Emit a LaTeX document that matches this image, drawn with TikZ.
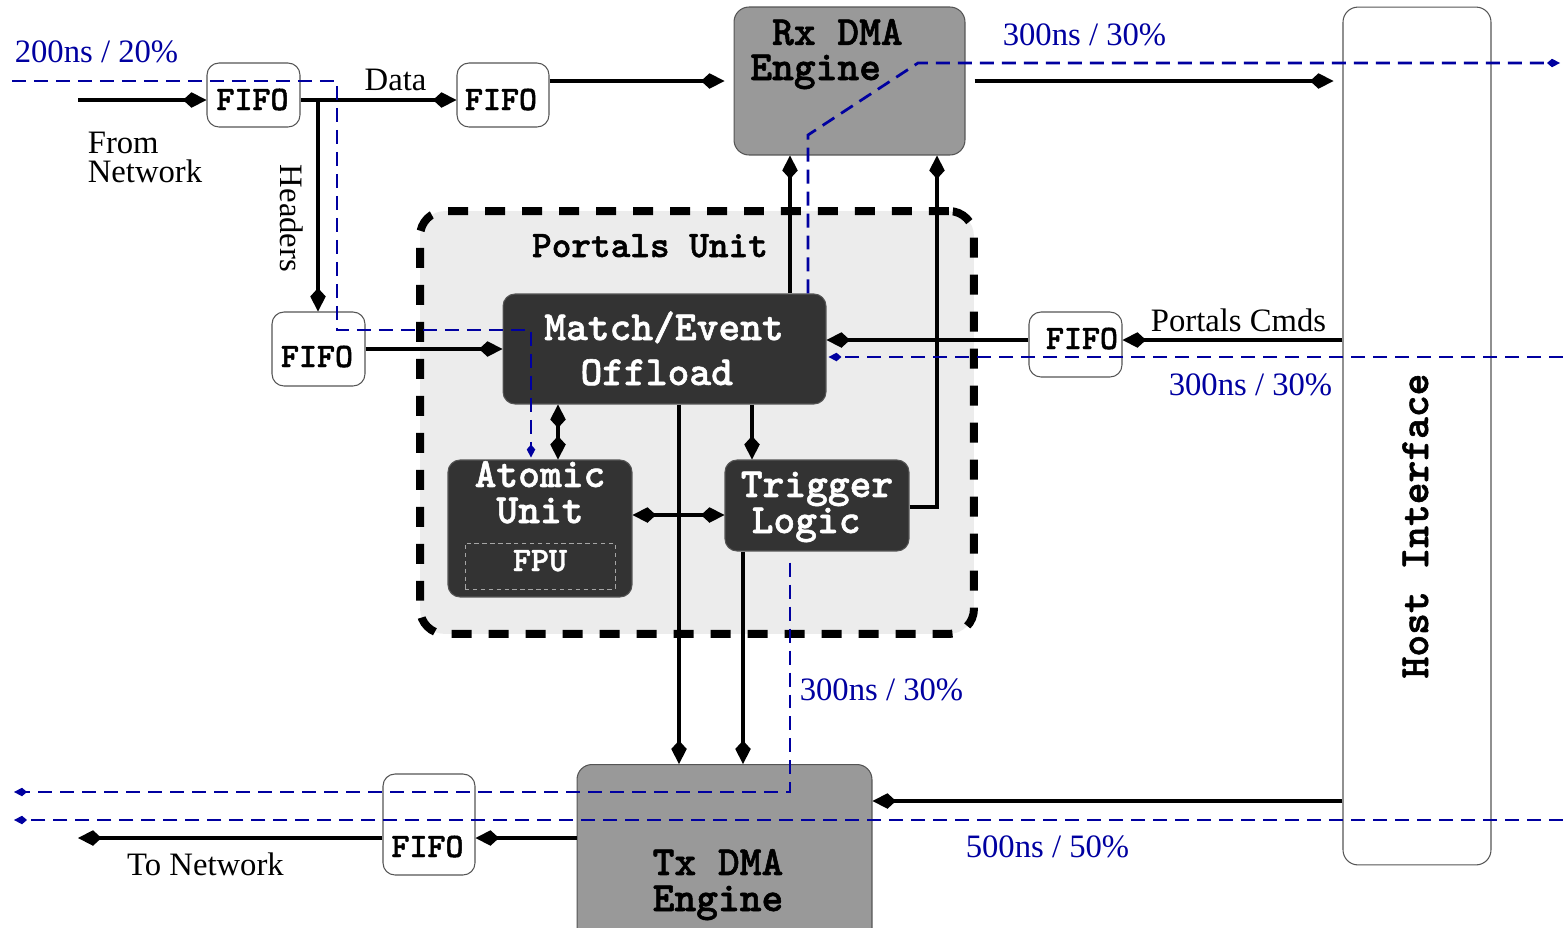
\documentclass[tikz,border=0pt]{standalone}
\usepackage{fontspec}
\setmainfont{Liberation Serif}
\newfontfamily\boxmono{lmmonolt10-bold.otf}[FakeBold=1.3]
\usetikzlibrary{arrows.meta,calc}

\definecolor{latblue}{RGB}{0,0,160}
\definecolor{dmagray}{RGB}{153,153,153}
\definecolor{unitdark}{RGB}{51,51,51}
\definecolor{portalbg}{RGB}{236,236,236}
\definecolor{edgegray}{RGB}{85,85,85}

\tikzset{
  bigtip/.tip={Kite[length=0.47cm,width=0.31cm,inset=0.17cm]},
  smalltip/.tip={Kite[length=0.26cm,width=0.17cm,inset=0.1cm]},
  wire/.style={line width=0.09cm,-bigtip},
  wiretwo/.style={line width=0.09cm,bigtip-bigtip},
  lat/.style={draw=latblue,line width=0.055cm,dash pattern=on 0.28cm off 0.16cm},
  lattip/.style={lat,-smalltip},
  fifo/.style={draw=edgegray,line width=0.6pt,fill=white,rounded corners=0.24cm,inner sep=0pt},
  dma/.style={draw=edgegray,line width=0.6pt,fill=dmagray,rounded corners=0.3cm,inner sep=0pt},
  blk/.style={draw=edgegray,line width=0.6pt,fill=unitdark,rounded corners=0.24cm,inner sep=0pt},
  hostbox/.style={draw=edgegray,line width=0.6pt,fill=white,rounded corners=0.3cm,inner sep=0pt},
  portals/.style={fill=portalbg,draw=black,line width=0.16cm,dash pattern=on 0.4cm off 0.34cm,rounded corners=0.5cm,inner sep=0pt},
  fpubox/.style={draw=gray!70,line width=0.5pt,dash pattern=on 2.5pt off 2pt,inner sep=0pt},
  monobig/.style={font=\fontsize{23.6}{20.5}\selectfont\boxmono,anchor=base,inner sep=0pt},
  monomid/.style={font=\fontsize{21.3}{24}\selectfont\boxmono,anchor=base,inner sep=0pt},
  monosmall/.style={font=\fontsize{19.5}{22}\selectfont\boxmono,anchor=base,inner sep=0pt},
  lbl/.style={font=\fontsize{18.6}{16.5}\selectfont,anchor=base,inner sep=0pt},
  latlbl/.style={lbl,text=latblue},
}

\begin{document}
\begin{tikzpicture}[x=0.02cm,y=-0.02cm]
\useasboundingbox (0,0) rectangle (1563,927);

% ---------- Portals unit frame ----------
\node[portals,minimum width=11.08cm,minimum height=8.46cm] (portal) at (697,422.5) {};
\node[monomid] (portaltxt) at (650,257) {Portals Unit};

% ---------- main blocks ----------
\node[dma,minimum width=4.62cm,minimum height=2.96cm] (rx) at (849.5,81) {};
\node[monobig,anchor=base west,align=left,font=\fontsize{23.6}{20}\selectfont\boxmono]
  (rxtxt) at (750,80) {\hspace*{0.525em}Rx DMA\\Engine};

\node[dma,minimum width=5.9cm,minimum height=3.7cm] (tx) at (724.5,857) {};
\node[monobig,align=center] (txtxt) at (718,911) {Tx DMA\\Engine};

\node[hostbox,minimum width=2.96cm,minimum height=17.16cm] (host) at (1417,436) {};
\node[monobig,rotate=90] (hosttxt) at (1428,526) {Host Interface};

\node[blk,minimum width=6.46cm,minimum height=2.2cm] (match) at (664.5,349) {};
\node[monobig,text=white,align=center,font=\fontsize{23.6}{25.6}\selectfont\boxmono]
  (matchtxt) at (664,385) {Match/Event\\Offload\hspace*{0.35em}};

\node[blk,minimum width=3.68cm,minimum height=2.74cm] (atomic) at (540,528.5) {};
\node[monobig,text=white,align=center] (atomtxt) at (540,523) {Atomic\\Unit};
\node[fpubox,minimum width=3.0cm,minimum height=0.92cm] (fpu) at (540,566) {};
\node[monosmall,text=white] (fputxt) at (540,571) {FPU};

\node[blk,minimum width=3.68cm,minimum height=1.82cm] (trig) at (817,505.5) {};
\node[monobig,text=white,align=center] (trigtxt) at (817,533) {Trigger\\Logic\hspace*{0.525em}};

% ---------- FIFOs ----------
\node[fifo,minimum width=1.86cm,minimum height=1.28cm] (fifoA) at (253.5,95) {};
\node[monosmall] (fifoAt) at (252.5,110) {FIFO};
\node[fifo,minimum width=1.84cm,minimum height=1.28cm] (fifoB) at (503,95) {};
\node[monosmall] (fifoBt) at (501,110) {FIFO};
\node[fifo,minimum width=1.86cm,minimum height=1.48cm] (fifoC) at (318.5,349) {};
\node[monosmall] (fifoCt) at (317,367) {FIFO};
\node[fifo,minimum width=1.86cm,minimum height=1.3cm] (fifoD) at (1075.5,344.5) {};
\node[monosmall] (fifoDt) at (1082,349) {FIFO};
\node[fifo,minimum width=1.84cm,minimum height=2.02cm] (fifoE) at (429,824.5) {};
\node[monosmall] (fifoEt) at (427.5,857) {FIFO};

% ---------- free text ----------
\node[lbl,anchor=base west,align=left] (fromtxt) at (87.5,182) {From\\Network};
\node[lbl] (datatxt) at (395.5,90) {Data};
\node[lbl,rotate=-90] (hdrtxt) at (280,218.5) {Headers};
\node[lbl] (cmdtxt) at (1238.5,331) {Portals Cmds};
\node[lbl] (totxt) at (205.5,875) {To Network};

\node[latlbl] (latA) at (96.5,62) {200ns / 20\%};
\node[latlbl] (latB) at (1084.5,45) {300ns / 30\%};
\node[latlbl] (latC) at (1250.5,395) {300ns / 30\%};
\node[latlbl] (latD) at (881.5,700) {300ns / 30\%};
\node[latlbl] (latE) at (1047.5,857) {500ns / 50\%};

% ---------- guide coordinates ----------
\coordinate (netin) at (78,100);
\coordinate (netout) at (78,838);
\coordinate (hdrsplit) at (318,100);
\coordinate (colRxA) at (790,0);
\coordinate (colRxB) at (937,0);
\coordinate (colAt) at (558,0);
\coordinate (colTr) at (752,0);
\coordinate (colTxA) at (679,0);
\coordinate (colTxB) at (743,0);
\coordinate (rowCmd) at (0,340);
\coordinate (rowAT) at (0,515);
\coordinate (rowHT) at (0,801);
\coordinate (rowTN) at (0,838);
\coordinate (rowTrig) at (0,507);

% ---------- data paths ----------
\draw[wire] (netin) -- ($(fifoA.west)+(0,5)$);
\draw[wire] ($(fifoA.east)+(0,5)$) -- ($(fifoB.west)+(0,5)$);
\draw[wire] (hdrsplit) -- (hdrsplit |- fifoC.north);
\draw[wire] (fifoC.east) -- (match.west);
\draw[wire,shorten >=0.18cm] ($(fifoB.east)+(0,-14)$) -- (rx.west);
\draw[wire,shorten <=0.18cm,shorten >=0.18cm] (rx.east) -- (rx.east -| host.west);
\draw[wire] (match.north -| colRxA) -- (rx.south -| colRxA);
\draw[wire] (trig.east |- rowTrig) -| (rx.south -| colRxB);
\draw[wire] (host.west |- rowCmd) -- (fifoD.east |- rowCmd);
\draw[wire] (fifoD.west |- rowCmd) -- (match.east |- rowCmd);
\draw[wiretwo] (match.south -| colAt) -- (atomic.north -| colAt);
\draw[wire] (match.south -| colTr) -- (trig.north -| colTr);
\draw[wiretwo] (atomic.east |- rowAT) -- (trig.west |- rowAT);
\draw[wire] (match.south -| colTxA) -- (tx.north -| colTxA);
\draw[wire] (trig.south -| colTxB) -- (tx.north -| colTxB);
\draw[wire] (host.west |- rowHT) -- (tx.east |- rowHT);
\draw[wire] (tx.west |- rowTN) -- (fifoE.east |- rowTN);
\draw[wire] (fifoE.west |- rowTN) -- (netout);

% ---------- latency paths ----------
\coordinate (lA0) at (12,81);
\coordinate (lA1) at (337,81);
\coordinate (lA2) at (337,330);
\coordinate (lA3) at (531,330);
\draw[lattip] (lA0) -- (lA1) -- (lA2) -- (lA3) -- ($(atomic.north -| lA3)+(0,-2)$);

\coordinate (lB1) at (808,135);
\coordinate (lB2) at (918,63);
\coordinate (lB3) at (1560,63);
\draw[lattip] (match.north -| lB1) -- (lB1) -- (lB2) -- (lB3);

\coordinate (lC0) at (1563,357);
\draw[lattip] (lC0) -- ($(match.east |- lC0)+(2,0)$);

\coordinate (lD1) at (790,792);
\coordinate (lD2) at (14,792);
\draw[lattip] ($(trig.south -| lD1)+(0,11)$) -- (lD1) -- (lD2);

\coordinate (lE0) at (1563,820);
\coordinate (lE1) at (14,820);
\draw[lattip] (lE0) -- (lE1);
\end{tikzpicture}
\end{document}
